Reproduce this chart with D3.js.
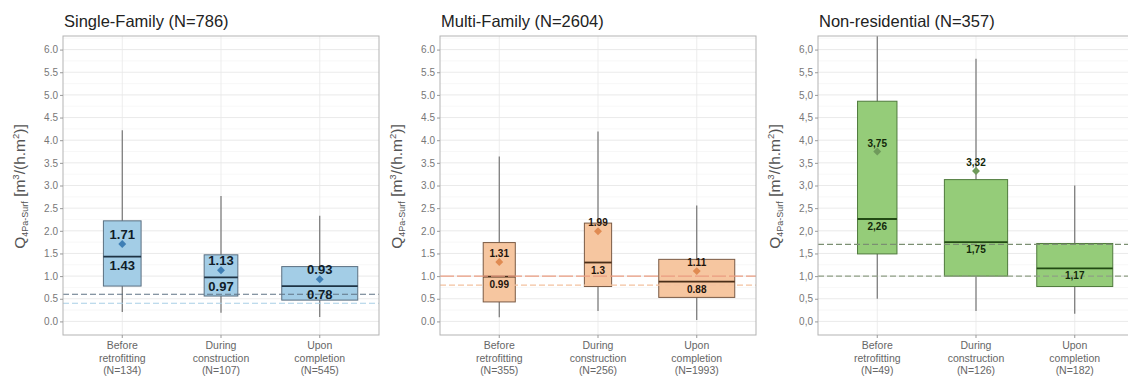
<!DOCTYPE html>
<html><head><meta charset="utf-8">
<script src="https://cdn.jsdelivr.net/npm/d3@7"></script>
<style>body{margin:0;background:#fff;} svg{display:block;font-family:"Liberation Sans",Arial,sans-serif;}</style>
</head><body>
<svg id="chart" width="1128" height="383"></svg>
<script>
// ---------- data ----------
const panelTitles = ["Single-Family (N=786)", "Multi-Family (N=2604)", "Non-residential (N=357)"];
const categories = ["Before|retrofitting", "During|construction", "Upon|completion"];
const counts = [[134, 107, 545], [355, 256, 1993], [49, 126, 182]];
const whiskerLow = [[0.21, 0.19, 0.10], [0.09, 0.23, 0.03], [0.50, 0.23, 0.17]];
const q1 = [[0.78, 0.56, 0.47], [0.43, 0.77, 0.53], [1.49, 1.00, 0.77]];
const medians = [[1.43, 0.97, 0.78], [0.99, 1.3, 0.88], [2.26, 1.75, 1.17]];
const means = [[1.71, 1.13, 0.93], [1.31, 1.99, 1.11], [3.75, 3.32, null]];
const q3 = [[2.22, 1.47, 1.21], [1.74, 2.17, 1.37], [4.86, 3.13, 1.72]];
const whiskerHigh = [[4.22, 2.77, 2.33], [3.64, 4.19, 2.56], [6.6, 5.8, 3.0]];
const refLines = [[0.6, 0.4], [1.0, 0.8], [1.7, 1.0]];
const yTicks = [0, 0.5, 1, 1.5, 2, 2.5, 3, 3.5, 4, 4.5, 5, 5.5, 6];
const decimalSep = [".", ".", ","];

// ---------- styles ----------
const panelLeft = [63, 440, 818];
const panelW = 316, plotTop = 36, plotBottom = 335;
const styles = [
  {fill: "#a3cde6", stroke: "#5b6f80", med: "#1e3344", dot: "#3f7fb5", lab: "#101c28", labSize: 13,
   ref: [{c: "#5f7385", d: "6,3"}, {c: "#a9cfe6", d: "6,3"}]},
  {fill: "#f6c6a0", stroke: "#7a5a44", med: "#4a2e18", dot: "#e08b52", lab: "#1e140c", labSize: 10,
   ref: [{c: "#ea9c80", d: "14,3"}, {c: "#f3c2a0", d: "6,3"}]},
  {fill: "#95cc79", stroke: "#4f7a3c", med: "#224a14", dot: "#6f9a5b", lab: "#12280a", labSize: 10,
   ref: [{c: "#7b8f72", d: "6,3"}, {c: "#8f9f85", d: "6,3"}]}
];

const svg = d3.select("#chart");
const y = d3.scaleLinear().domain([-0.3, 6.3]).range([plotBottom, plotTop]);

panelTitles.forEach((title, p) => {
  const st = styles[p];
  const x0 = panelLeft[p];
  const g = svg.append("g");
  const clipId = "clip" + p;
  svg.append("clipPath").attr("id", clipId).append("rect")
    .attr("x", x0).attr("y", plotTop).attr("width", panelW).attr("height", plotBottom - plotTop);

  // ggplot discrete expansion: 0.6 units each side
  const x = d3.scalePoint().domain(categories).range([x0, x0 + panelW]).padding(0.6);
  const cx = (i) => x(categories[i]);

  // background & grid
  g.append("rect").attr("x", x0).attr("y", plotTop).attr("width", panelW).attr("height", plotBottom - plotTop).attr("fill", "#fff");
  const minor = d3.range(0.25, 6.3, 0.5);
  g.selectAll(".mn").data(minor).join("line")
    .attr("x1", x0).attr("x2", x0 + panelW).attr("y1", d => y(d)).attr("y2", d => y(d))
    .attr("stroke", "#f2f2f2").attr("stroke-width", 0.6);
  g.selectAll(".mj").data(yTicks).join("line")
    .attr("x1", x0).attr("x2", x0 + panelW).attr("y1", d => y(d)).attr("y2", d => y(d))
    .attr("stroke", "#e4e4e4").attr("stroke-width", 0.8);
  g.selectAll(".vg").data(categories).join("line")
    .attr("x1", (d, i) => cx(i)).attr("x2", (d, i) => cx(i)).attr("y1", plotTop).attr("y2", plotBottom)
    .attr("stroke", "#e8e8e8").attr("stroke-width", 0.8);

  const maxN = d3.max(counts[p]);
  const bw = (i) => 76 * Math.sqrt(counts[p][i] / maxN);
  const pg = g.append("g").attr("clip-path", `url(#${clipId})`);

  // whiskers
  pg.selectAll(".wh").data(categories).join("line")
    .attr("x1", (d, i) => cx(i)).attr("x2", (d, i) => cx(i))
    .attr("y1", (d, i) => y(whiskerLow[p][i])).attr("y2", (d, i) => y(whiskerHigh[p][i]))
    .attr("stroke", "#6a6a6a").attr("stroke-width", 1.1);
  // boxes
  pg.selectAll(".bx").data(categories).join("rect")
    .attr("x", (d, i) => cx(i) - bw(i) / 2).attr("width", (d, i) => bw(i))
    .attr("y", (d, i) => y(q3[p][i])).attr("height", (d, i) => y(q1[p][i]) - y(q3[p][i]))
    .attr("fill", st.fill).attr("stroke", st.stroke).attr("stroke-width", 1);
  // medians
  pg.selectAll(".md").data(categories).join("line")
    .attr("x1", (d, i) => cx(i) - bw(i) / 2).attr("x2", (d, i) => cx(i) + bw(i) / 2)
    .attr("y1", (d, i) => y(medians[p][i])).attr("y2", (d, i) => y(medians[p][i]))
    .attr("stroke", st.med).attr("stroke-width", 1.8);

  // reference lines
  refLines[p].forEach((v, k) => {
    pg.append("line").attr("x1", x0).attr("x2", x0 + panelW).attr("y1", y(v)).attr("y2", y(v))
      .attr("stroke", st.ref[k].c).attr("stroke-width", 1.1).attr("stroke-dasharray", st.ref[k].d);
  });

  // means (diamonds)
  const fmt = (v) => String(v).replace(".", decimalSep[p]);
  categories.forEach((c, i) => {
    const m = means[p][i];
    if (m == null) return;
    pg.append("path").attr("d", d3.symbol(d3.symbolDiamond2, 40)())
      .attr("transform", `translate(${cx(i)},${y(m)})`)
      .attr("fill", st.dot);
    pg.append("text").attr("x", cx(i)).attr("y", y(m) - 5).attr("text-anchor", "middle")
      .attr("font-size", st.labSize).attr("font-weight", "bold").attr("fill", st.lab).text(fmt(m));
  });
  categories.forEach((c, i) => {
    pg.append("text").attr("x", cx(i)).attr("y", y(medians[p][i]) + 3 + st.labSize * 0.8)
      .attr("text-anchor", "middle").attr("font-size", st.labSize).attr("font-weight", "bold")
      .attr("fill", st.lab).text(fmt(medians[p][i]));
  });

  // border
  g.append("rect").attr("x", x0).attr("y", plotTop).attr("width", panelW).attr("height", plotBottom - plotTop)
    .attr("fill", "none").attr("stroke", "#b3b3b3").attr("stroke-width", 1);

  // y axis
  const ya = g.append("g").attr("transform", `translate(${x0},0)`)
    .call(d3.axisLeft(y).tickValues(yTicks).tickSize(3).tickPadding(2).tickFormat(d => d3.format(".1f")(d).replace(".", decimalSep[p])));
  ya.select(".domain").remove();
  ya.selectAll("line").attr("stroke", "#999");
  ya.selectAll("text").attr("fill", "#777").attr("font-size", 10).attr("font-family", "Liberation Sans, Arial, sans-serif");

  // x axis ticks + labels
  categories.forEach((c, i) => {
    g.append("line").attr("x1", cx(i)).attr("x2", cx(i)).attr("y1", plotBottom).attr("y2", plotBottom + 3).attr("stroke", "#999");
    const lines = c.split("|").concat([`(N=${counts[p][i]})`]);
    const t = g.append("text").attr("text-anchor", "middle").attr("font-size", 10.5).attr("fill", "#666");
    lines.forEach((l, k) => t.append("tspan").attr("x", cx(i)).attr("y", 349 + k * 12.5).text(l));
  });

  // y axis title
  const yl = g.append("text").attr("transform", `translate(${x0 - 38},${(plotTop + plotBottom) / 2 + 1}) rotate(-90)`)
    .attr("text-anchor", "middle").attr("fill", "#555").attr("font-size", 15.5);
  yl.append("tspan").text("Q");
  yl.append("tspan").attr("font-size", 9).attr("dy", 3).text("4Pa-Surf");
  yl.append("tspan").attr("dy", -3).text(" [m");
  yl.append("tspan").attr("font-size", 9.5).attr("dy", -6).text("3");
  yl.append("tspan").attr("dy", 6).text("/(h.m");
  yl.append("tspan").attr("font-size", 9.5).attr("dy", -6).text("2");
  yl.append("tspan").attr("dy", 6).text(")]");

  // title
  g.append("text").attr("x", x0 + 1).attr("y", 27).attr("font-size", 16.5).attr("fill", "#222").text(title);
});
</script>
</body></html>
